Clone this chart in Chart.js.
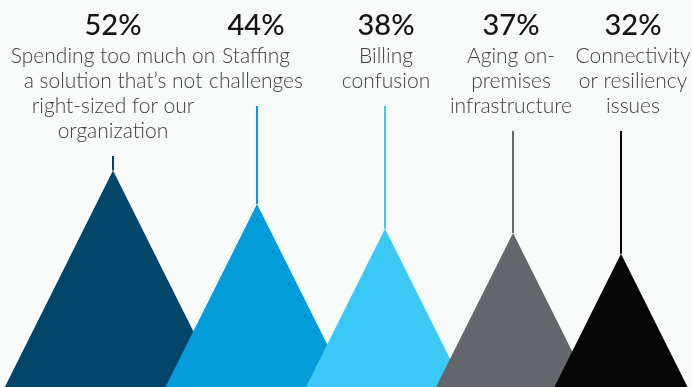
<!DOCTYPE html>
<html>
<head>
<meta charset="utf-8">
<script src="https://cdn.jsdelivr.net/npm/chart.js@4"></script>
<style>
  html, body { margin: 0; padding: 0; background: #f8f9f9; }
  #wrap { width: 692px; height: 387px; }
</style>
</head>
<body>
<div id="wrap"><canvas id="peaks" width="692" height="387"></canvas></div>
<script>
var topics = [
    [ "Spending too much on", "a solution that\u2019s not", "right-sized for our", "organization" ],
    [ "Staffing", "challenges" ],
    [ "Billing", "confusion" ],
    [ "Aging on-", "premises", "infrastructure" ],
    [ "Connectivity", "or resiliency", "issues" ]
];
var shares = [ 52, 44, 38, 37, 32 ];

// layout: where each peak sits on the x axis, how wide it spreads per percent,
// and where its caption is centred (the last one is pushed against the right edge)
var peakAt = [ 113, 257, 385, 513, 621 ],
    captionAt = [ 113, 256, 386, 511, 633 ],
    spread = 2.08;

var colors = [ "#02456a", "#029cdb", "#3bc8f4", "#63666a", "#050505" ];

var datasets = shares.map(function (v, i) {
    return {
        label          : topics[i].join(" "),
        data           : [ { x: peakAt[i] - spread * v, y: 0 }, { x: peakAt[i], y: v }, { x: peakAt[i] + spread * v, y: 0 } ],
        backgroundColor: colors[i],
        borderColor    : "transparent",
        borderWidth    : 0,
        pointRadius    : 0,
        tension        : 0,
        fill           : "origin",
        order          : shares.length - i
    };
});

var peakLabels = {
    id: "peakLabels",
    afterDatasetsDraw: function (chart) {
        var ctx = chart.ctx,
            xs = chart.scales.x,
            ys = chart.scales.y;
        ctx.save();
        shares.forEach(function (v, i) {
            var lines = topics[i],
                px = xs.getPixelForValue(peakAt[i]),
                py = ys.getPixelForValue(v),
                cx = xs.getPixelForValue(captionAt[i]);

            // stem from the caption block down to the peak
            var stemTop = 63 + (lines.length - 1) * 25 + 18;
            ctx.strokeStyle = colors[i];
            ctx.lineWidth = 2;
            ctx.beginPath();
            ctx.moveTo(px, stemTop);
            ctx.lineTo(px, py);
            ctx.stroke();

            ctx.textAlign = "center";
            ctx.textBaseline = "alphabetic";
            ctx.fillStyle = "#141414";
            ctx.font = "500 29px Lato";
            ctx.fillText(v + "%", cx, 35);

            ctx.fillStyle = "#404040";
            ctx.font = "300 21px Lato";
            lines.forEach(function (t, j) {
                ctx.fillText(t, cx, 63 + j * 25);
            });
        });
        ctx.restore();
    }
};

new Chart(document.getElementById("peaks").getContext("2d"), {
    type   : "line",
    data   : { datasets: datasets },
    options: {
        responsive: false,
        animation : false,
        layout    : { padding: 0 },
        plugins   : { legend: { display: false }, tooltip: { enabled: false } },
        scales    : {
            x: { type: "linear", min: 0, max: 692, display: false },
            y: { min: 0, max: 93, display: false }
        }
    },
    plugins: [ peakLabels ]
});
</script>
</body>
</html>
